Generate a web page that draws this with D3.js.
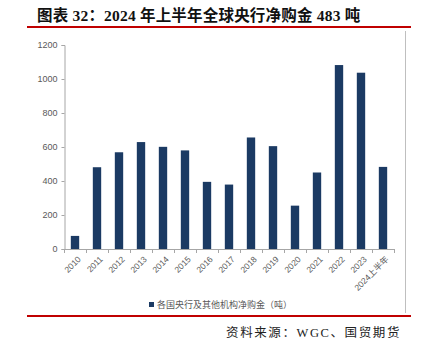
<!DOCTYPE html>
<html><head><meta charset="utf-8">
<script src="https://cdn.jsdelivr.net/npm/d3@7"></script>
<style>body{margin:0;background:#fff}svg{display:block}</style>
</head><body>
<svg id="c" width="432" height="343"></svg>
<script>
const categories = ["2010","2011","2012","2013","2014","2015","2016","2017","2018","2019","2020","2021","2022","2023","2024上半年"];
const values = [77,481,569,629,601,580,395,379,656,605,255,450,1082,1037,483];
const yTicks = [0,200,400,600,800,1000,1200];
const titleText = "图表 32：2024 年上半年全球央行净购金 483 吨";
const legendText = "各国央行及其他机构净购金（吨）";
const sourceText = "资料来源：WGC、国贸期货";

const svg = d3.select("#c");
const x = d3.scaleBand().domain(categories).range([64, 394]).paddingInner(0.62).paddingOuter(0.31);
const y = d3.scaleLinear().domain([0,1200]).range([249, 45]);
const barColor = "#1b3a63";
const axisColor = "#a6a6a6";
const textColor = "#595959";

// title
svg.append("text").attr("x", 37).attr("y", 21)
  .attr("font-family", "'Liberation Serif','Noto Sans CJK SC',serif")
  .attr("font-weight", "bold").attr("font-size", 15.5).attr("letter-spacing", 0.2).attr("fill", "#111")
  .text(titleText);
// red lines
svg.append("line").attr("x1", 27).attr("x2", 411).attr("y1", 27).attr("y2", 27).attr("stroke", "#c00000").attr("stroke-width", 2);
svg.append("line").attr("x1", 27).attr("x2", 411).attr("y1", 316).attr("y2", 316).attr("stroke", "#c00000").attr("stroke-width", 2);
// right gray border
svg.append("line").attr("x1", 405.5).attr("x2", 405.5).attr("y1", 31).attr("y2", 313).attr("stroke", "#bfbfbf").attr("stroke-width", 1);

// bars
svg.append("g").selectAll("rect").data(values).join("rect")
  .attr("x", (d,i) => x(categories[i]))
  .attr("width", x.bandwidth())
  .attr("y", d => y(d))
  .attr("height", d => y(0) - y(d))
  .attr("fill", barColor);

// y axis
const ya = svg.append("g").attr("transform", "translate(64.5,0)")
  .call(d3.axisLeft(y).tickValues(yTicks).tickSize(3).tickPadding(4).tickFormat(d3.format("d")));
ya.select(".domain").attr("stroke", axisColor);
ya.selectAll(".tick line").attr("stroke", axisColor);
ya.selectAll("text").attr("fill", textColor).attr("font-size", 9).attr("font-family", "'Liberation Sans',Arial,sans-serif");

// x axis
const xa = svg.append("g").attr("transform", "translate(0,249.5)")
  .call(d3.axisBottom(x).tickSize(0).tickPadding(6));
xa.select(".domain").attr("stroke", axisColor).attr("d", "M64,0H394");
xa.selectAll("text").attr("fill", textColor).attr("font-size", 8.5)
  .attr("font-family", "'Liberation Sans','Noto Sans CJK SC',sans-serif")
  .attr("text-anchor", "end").attr("dy", "0.35em")
  .attr("transform", "translate(0,4) rotate(-45)");
// category separator ticks
const step = x.step();
svg.append("g").selectAll("line").data(d3.range(categories.length + 1)).join("line")
  .attr("x1", i => 64 + i * step + 0.5).attr("x2", i => 64 + i * step + 0.5)
  .attr("y1", 249).attr("y2", 253).attr("stroke", axisColor);

// legend
svg.append("rect").attr("x", 149).attr("y", 302).attr("width", 5).attr("height", 5).attr("fill", barColor);
svg.append("text").attr("x", 157).attr("y", 308)
  .attr("font-family", "'Noto Sans CJK SC',sans-serif").attr("font-size", 9).attr("fill", textColor)
  .text(legendText);

// source
svg.append("text").attr("x", 401).attr("y", 337).attr("text-anchor", "end")
  .attr("font-family", "'Liberation Serif','Noto Sans CJK SC',serif").attr("font-size", 12.5).attr("letter-spacing", 1.6).attr("fill", "#222")
  .text(sourceText);
</script>
</body></html>
